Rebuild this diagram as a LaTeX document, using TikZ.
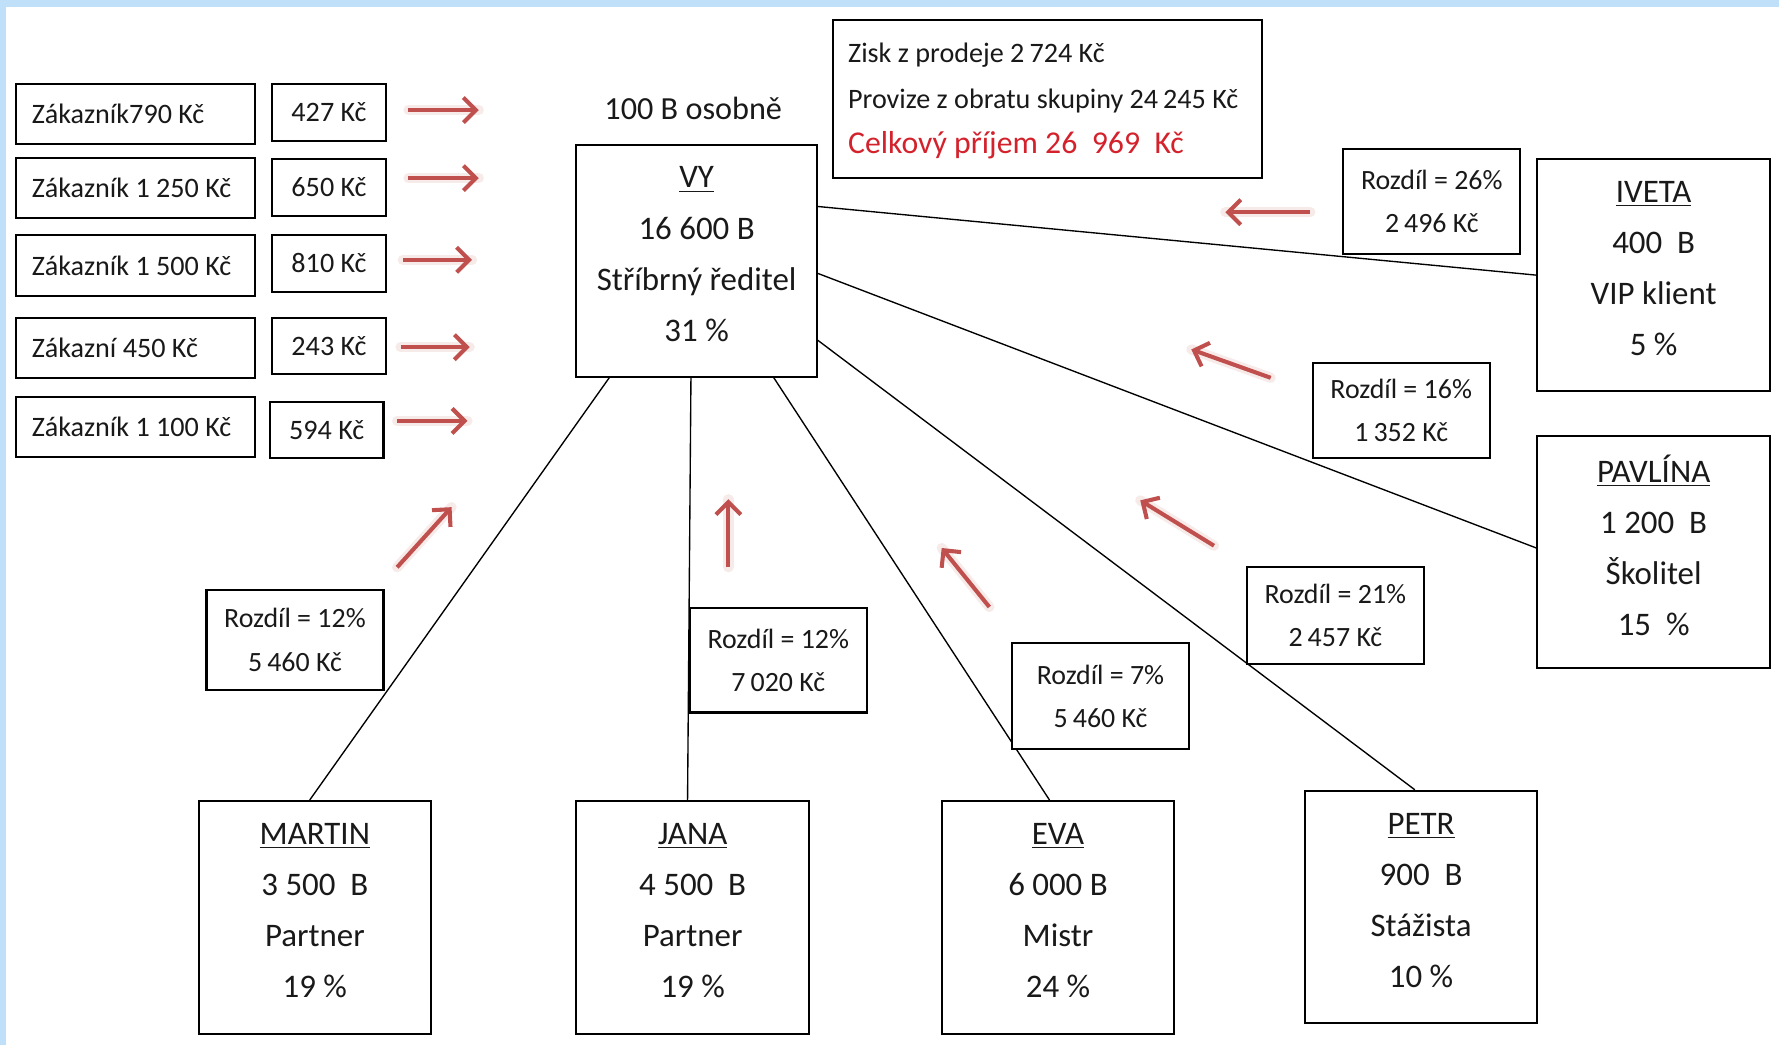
\documentclass[tikz,border=0pt]{standalone}
\usepackage{fontspec}
\setmainfont{Carlito}
\usetikzlibrary{arrows.meta}
\definecolor{bgblue}{RGB}{192,224,250}
\definecolor{arrred}{RGB}{192,80,77}
\definecolor{totred}{RGB}{212,34,44}
\definecolor{txt}{RGB}{25,25,25}
\newcommand{\grpsp}{\hspace{0.18em}}
\begin{document}
\begin{tikzpicture}[x=0.5pt,y=-0.5pt,
  box/.style={draw=black, line width=0.9pt, inner sep=0pt, text=txt},
  cust/.style={box, minimum width=105.5pt, minimum height=26.5pt, font=\fontsize{12.4}{15}\selectfont},
  amt/.style={box, minimum width=50pt, minimum height=25pt, font=\fontsize{12.4}{15}\selectfont},
  person/.style={box, minimum width=102.5pt, minimum height=102.5pt},
  ptext/.style={inner sep=0pt, align=center, text=txt, font=\fontsize{14.5}{22.5}\selectfont},
  diff/.style={box, minimum width=78pt, align=center, font=\fontsize{12.3}{19}\selectfont},
  link/.style={draw=black, line width=0.6pt},
  glow/.style={draw=arrred!25, line width=4.5pt, opacity=0.45, line cap=round},
  redarrow/.style={draw=arrred, line width=1.8pt, -{Straight Barb[length=5.5pt,width=11pt,line width=1.8pt]}}
]
\useasboundingbox (0,0) rectangle (1568,921);
\fill[white] (0,0) rectangle (1568,921);
\fill[bgblue] (0,0) rectangle (1568,6);
\fill[bgblue] (0,0) rectangle (5,921);

% customer boxes
\node[cust] (c1) at (119.5,100.5) {\makebox[91.5pt][l]{Zákazník790 Kč}};
\node[cust] (c2) at (119.5,165.5) {\makebox[91.5pt][l]{Zákazník 1 250 Kč}};
\node[cust] (c3) at (119.5,234) {\makebox[91.5pt][l]{Zákazník 1 500 Kč}};
\node[cust] (c4) at (119.5,306.5) {\makebox[91.5pt][l]{Zákazní 450 Kč}};
\node[cust] (c5) at (119.5,376.5) {\makebox[91.5pt][l]{Zákazník 1 100 Kč}};
% amount boxes
\node[amt] (k1) at (290,99) {427 Kč};
\node[amt] (k2) at (290,165) {650 Kč};
\node[amt] (k3) at (290,232) {810 Kč};
\node[amt] (k4) at (290,305) {243 Kč};
\node[amt] (k5) at (288,379) {594 Kč};

% top texts
\node[text=txt, font=\fontsize{14.2}{17}\selectfont] (osobne) at (611,96) {100 B osobně};
\node[box, minimum height=69.5pt, minimum width=189pt] (info) at (923,87.5) {};
\node[anchor=west, inner sep=0pt, align=left, text=txt, font=\fontsize{12.4}{20}\selectfont] (infot) at ([xshift=7pt,yshift=-0.8pt]info.west)
  {Zisk z prodeje 2\grpsp 724 Kč\\Provize z obratu skupiny 24\grpsp 245 Kč\\{\fontsize{14}{20}\selectfont\color{totred}Celkový příjem 26~~969~~Kč}};

% person boxes
\node[person, minimum width=106pt, minimum height=102pt] (vy) at (614,230) {};
\node[ptext] (vyt) at ([yshift=3pt]vy.center) {\underline{VY}\\16 600 B\\Stříbrný ředitel\\31 \%};
\node[person] (iveta) at (1457.5,242.5) {};
\node[ptext] (ivetat) at ([yshift=3pt]iveta.center) {\underline{IVETA}\\400~~B\\VIP klient\\5 \%};
\node[person] (pavlina) at (1457.5,486.5) {};
\node[ptext] (pavlinat) at ([yshift=3pt]pavlina.center) {\underline{PAVLÍNA}\\1 200~~B\\Školitel\\15~~\%};
\node[person] (petr) at (1252.5,799.5) {};
\node[ptext] (petrt) at ([yshift=3pt]petr.center) {\underline{PETR}\\900~~B\\Stážista\\10 \%};
\node[person] (eva) at (932.5,808.5) {};
\node[ptext] (evat) at ([yshift=3pt]eva.center) {\underline{EVA}\\6 000 B\\Mistr\\24 \%};
\node[person] (jana) at (610.5,808.5) {};
\node[ptext] (janat) at ([yshift=3pt]jana.center) {\underline{JANA}\\4 500~~B\\Partner\\19 \%};
\node[person] (martin) at (277.5,808.5) {};
\node[ptext] (martint) at ([yshift=3pt]martin.center) {\underline{MARTIN}\\3 500~~B\\Partner\\19 \%};

% connectors
\draw[link] ([yshift=24pt]vy.east) -- (iveta.west);
\draw[link] ([yshift=-5.5pt]vy.east) -- ([yshift=1.75pt]pavlina.west);
\draw[link] ([yshift=-35pt]vy.east) -- ([xshift=-2.75pt]petr.north);
\draw[link] ([xshift=34pt]vy.south) -- ([xshift=-3.75pt]eva.north);
\draw[link] ([xshift=-2.5pt]vy.south) -- ([xshift=-2.25pt]jana.north);
\draw[link] ([xshift=-38.5pt]vy.south) -- ([xshift=-2.25pt]martin.north);

% difference boxes (on top of the lines)
\node[diff, minimum height=46.5pt, fill=white] (r26) at (1262,177.5) {Rozdíl = 26\%\\2\grpsp 496 Kč};
\node[diff, minimum height=42pt, fill=white] (r16) at (1235,362) {Rozdíl = 16\%\\1\grpsp 352 Kč};
\node[diff, minimum height=42.5pt, fill=white] (r21) at (1177,542.5) {Rozdíl = 21\%\\2\grpsp 457 Kč};
\node[diff, minimum height=46.5pt, fill=white] (r7) at (970,613.5) {Rozdíl = 7\%\\5\grpsp 460 Kč};
\node[diff, minimum height=46pt, fill=white] (r12j) at (686,582) {Rozdíl = 12\%\\7\grpsp 020 Kč};
\node[diff, minimum height=44pt, fill=white] (r12m) at (260,564) {Rozdíl = 12\%\\5\grpsp 460 Kč};

% red arrows
\foreach \n/\sx/\sy/\ex/\ey in {1/360/97/422/97, 2/360/157/422/157, 3/355/229/416/229, 4/353/306/414/306, 5/350/371/412/371,
  6/1155/187/1080/187, 7/1120/333/1050/308, 8/1070/481/1005/441, 9/872/535/830/483, 10/642/500/642/440, 11/350/500/398/447}{
  \coordinate (as\n) at (\sx,\sy);
  \coordinate (ae\n) at (\ex,\ey);
  \draw[glow] (as\n) -- (ae\n);
  \draw[redarrow] (as\n) -- (ae\n);
}
\end{tikzpicture}
\end{document}
